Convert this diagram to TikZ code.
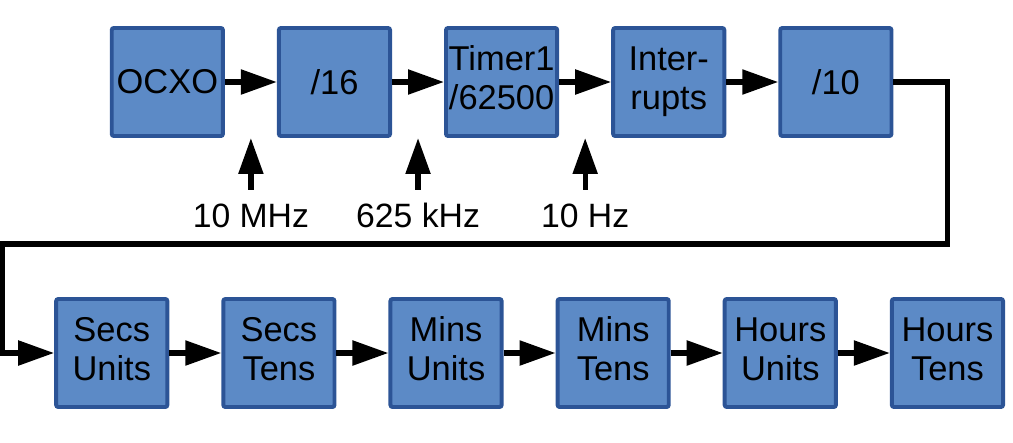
\documentclass[tikz,border=0pt]{standalone}
\usepackage{fontspec}
\setmainfont{Liberation Sans}
\usetikzlibrary{matrix,positioning,calc,arrows.meta}
\definecolor{boxfill}{RGB}{92,138,198}
\definecolor{boxline}{RGB}{44,84,150}
\newcommand{\twol}[2]{\begin{tabular}{@{}c@{}}#1\\#2\end{tabular}}
\tikzset{
	blk/.style={draw=boxline, fill=boxfill, line width=2.8pt, rounded corners=1.5pt,
		minimum width=2.78cm, minimum height=2.7cm, inner sep=0pt, anchor=center,
		font=\fontsize{24.5}{27.5}\selectfont},
	freq/.style={inner xsep=0pt, inner ysep=8.8pt, text height=17.5pt, text depth=0pt,
		font=\fontsize{24}{26}\selectfont},
	arr/.style={-{Triangle[length=0.9cm,width=0.6cm]}, line width=3.8pt}
}
\begin{document}
\begin{tikzpicture}
			\useasboundingbox (0,0) rectangle (25.325,-11.05);
			\matrix (top) [matrix of nodes,nodes=blk,column sep=1.3cm,ampersand replacement=\&] at (12.54,-2.05)
			{
				OCXO \& /16 \& \twol{Timer1}{/62500} \& \twol{Inter-}{rupts} \& /10 \\};
			\matrix (bot) [matrix of nodes,nodes=blk,column sep=1.3cm,ampersand replacement=\&] at (13.24,-8.825)
			{
				\twol{Secs}{Units} \& \twol{Secs}{Tens} \& \twol{Mins}{Units} \& \twol{Mins}{Tens} \& \twol{Hours}{Units} \& \twol{Hours}{Tens} \\};
			% clock chain
			\path[arr]
			(top-1-1) edge (top-1-2)
			(top-1-2) edge (top-1-3)
			(top-1-3) edge (top-1-4)
			(top-1-4) edge (top-1-5)
			(bot-1-1) edge (bot-1-2)
			(bot-1-2) edge (bot-1-3)
			(bot-1-3) edge (bot-1-4)
			(bot-1-4) edge (bot-1-5)
			(bot-1-5) edge (bot-1-6);
			% frequencies
			\coordinate (in1) at ($(top-1-1.south east)!0.5!(top-1-2.south west)$);
			\coordinate (in2) at ($(top-1-2.south east)!0.5!(top-1-3.south west)$);
			\coordinate (in3) at ($(top-1-3.south east)!0.5!(top-1-4.south west)$);
			\node[freq, below=1.3cm of in1] (f1) {10 MHz};
			\node[freq, below=1.3cm of in2] (f2) {625 kHz};
			\node[freq, below=1.3cm of in3] (f3) {10 Hz};
			\draw[arr] (f1) -- (in1);
			\draw[arr] (f2) -- (in2);
			\draw[arr] (f3) -- (in3);
			% wrap round to the seconds
			\coordinate (cr) at (23.69,-6.1);
			\coordinate (cl) at (0.07,-6.1);
			\draw[arr] (top-1-5.east) -| (cr) -- (cl) |- (bot-1-1.west);
		\end{tikzpicture}
\end{document}
